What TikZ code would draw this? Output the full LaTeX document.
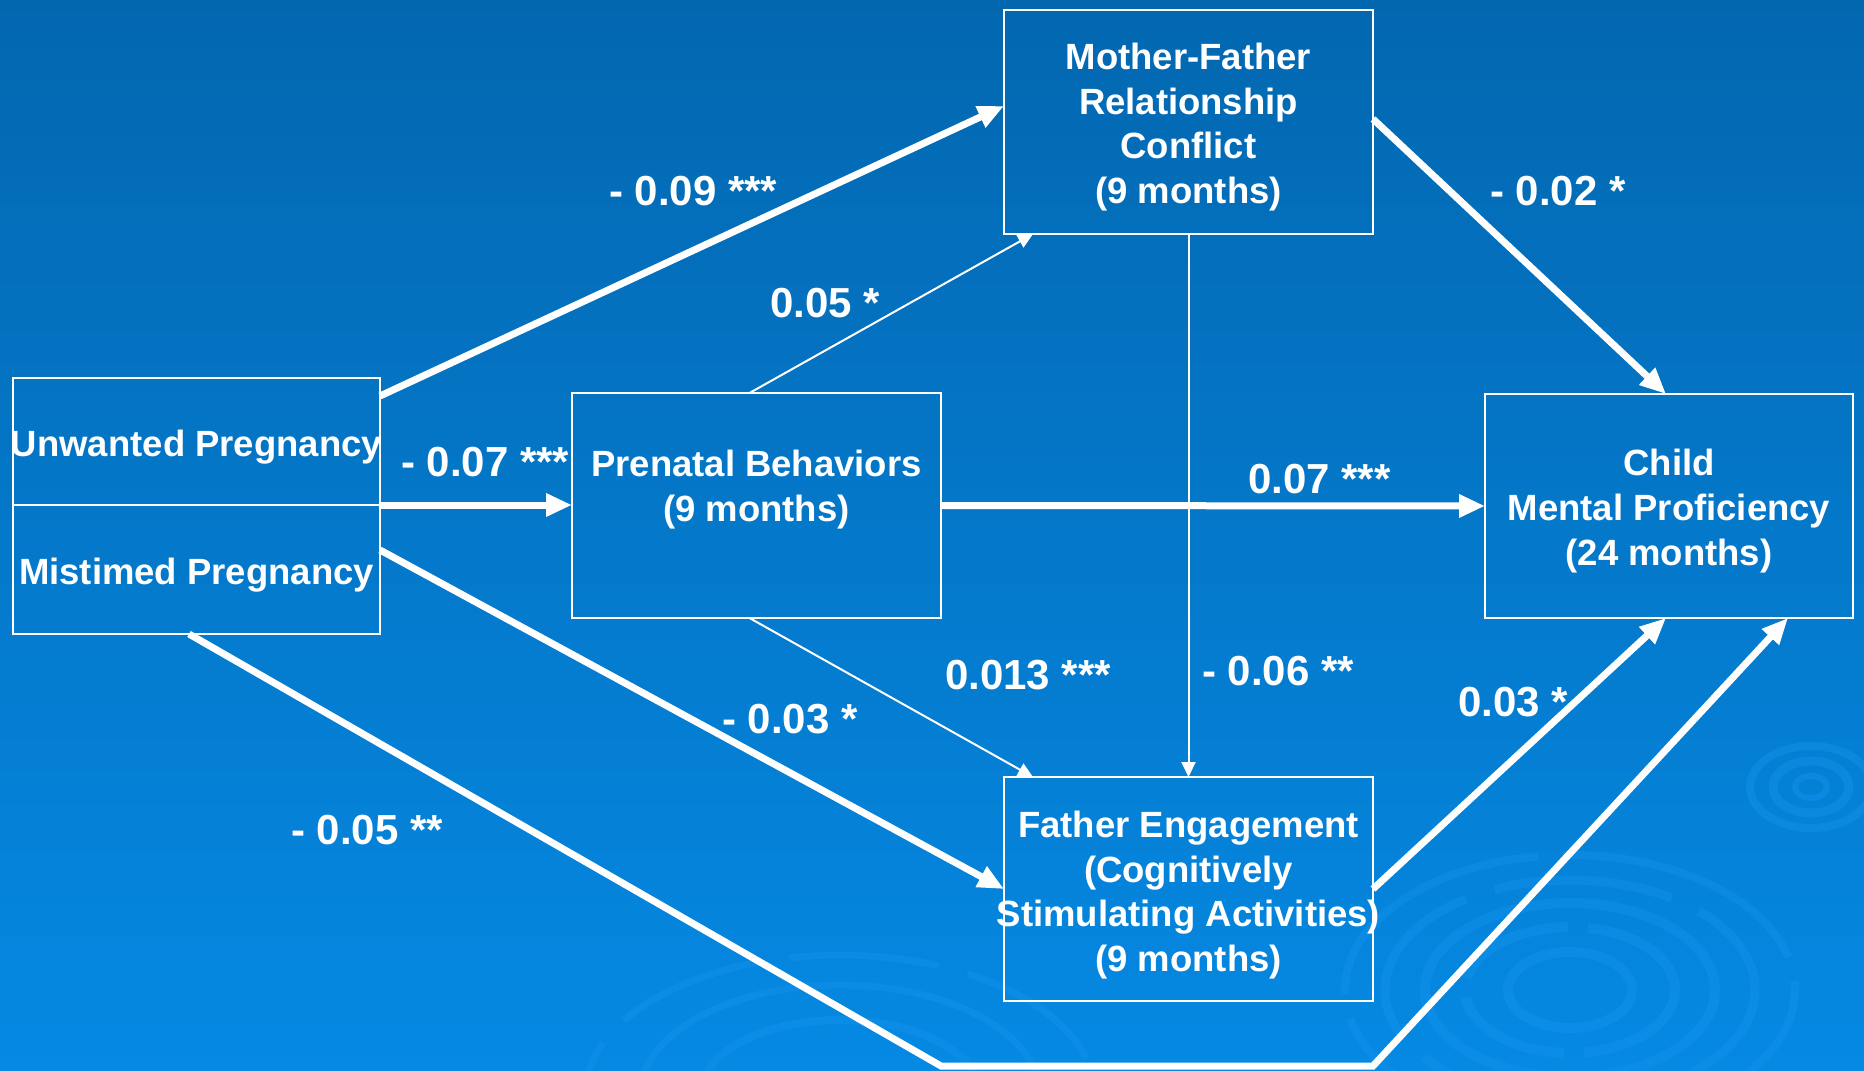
\documentclass[tikz,border=0pt]{standalone}
\usepackage{fontspec}
\setmainfont{Liberation Sans}
\usetikzlibrary{arrows.meta,calc}
\definecolor{bgtop}{RGB}{3,103,176}
\definecolor{bgbot}{RGB}{5,137,227}
\definecolor{ripc}{RGB}{22,148,238}
\newcommand{\dgBoxFont}{\bfseries\fontsize{36.5}{44.7}\selectfont}
\newcommand{\dgLabFont}{\bfseries\fontsize{42}{48}\selectfont}
\begin{document}
\begin{tikzpicture}[x=1pt,y=-1pt,
  box/.style={draw=white,line width=2.5pt,inner sep=0pt,outer sep=0pt},
  btext/.style={text=white,align=center,font=\dgBoxFont,inner sep=0pt},
  lab/.style={text=white,font=\dgLabFont,inner sep=0pt,anchor=base west},
  thick arrow/.style={draw=white,line width=7pt,-{Triangle[length=26pt,width=22pt]}},
  thin arrow/.style={draw=white,line width=2pt,-{Triangle[length=15pt,width=14pt]}}]
\useasboundingbox (0,0) rectangle (1864,1071);
\clip (0,0) rectangle (1864,1071);
% background
\shade[top color=bgtop,middle color=bgtop,bottom color=bgbot] (0,0) rectangle (1864,1071);
% ripples
\begin{scope}[draw=ripc,opacity=0.4]
  \draw[line width=8pt,dash pattern=on 260pt off 25pt] (1570,990) ellipse [x radius=225, y radius=135];
  \draw[line width=9pt,dash pattern=on 180pt off 30pt] (1570,990) ellipse [x radius=185, y radius=110];
  \draw[line width=10pt] (1570,990) ellipse [x radius=145, y radius=87];
  \draw[line width=10pt,dash pattern=on 120pt off 20pt] (1570,990) ellipse [x radius=105, y radius=63];
  \draw[line width=10pt] (1570,990) ellipse [x radius=62, y radius=38];
  \draw[line width=8pt] (1811,787) ellipse [x radius=61, y radius=41];
  \draw[line width=9pt] (1811,787) ellipse [x radius=38, y radius=26];
  \draw[line width=6pt] (1811,787) ellipse [x radius=16, y radius=11];
  \draw[line width=7pt,dash pattern=on 150pt off 30pt] (840,1095) ellipse [x radius=255, y radius=140];
  \draw[line width=7pt] (840,1095) ellipse [x radius=200, y radius=110];
  \draw[line width=8pt] (840,1095) ellipse [x radius=140, y radius=75];
\end{scope}
% boxes
\node[box,minimum width=367pt,minimum height=127pt] (U) at (196.5,441.5) {};
\node[box,minimum width=367pt,minimum height=129pt] (M) at (196.5,569.5) {};
\node[box,minimum width=369pt,minimum height=225pt] (P) at (756.5,505.5) {};
\node[box,minimum width=369pt,minimum height=224pt] (MF) at (1188.5,122) {};
\node[box,minimum width=368pt,minimum height=224pt] (C) at (1669,506) {};
\node[box,minimum width=369pt,minimum height=224pt] (F) at (1188.5,889) {};
% box texts
\node[btext] (Utext) at ([yshift=-6pt]U.center) {Unwanted Pregnancy};
\node[btext] (Mtext) at ([yshift=-6pt]M.center) {Mistimed Pregnancy};
\node[btext] (Ptext) at ([yshift=16pt]P.center) {Prenatal Behaviors\\(9 months)};
\node[btext] (MFtext) at ([yshift=-5pt]MF.center) {Mother-Father\\Relationship\\Conflict\\(9 months)};
\node[btext] (Ctext) at ([yshift=-5pt]C.center) {Child\\Mental Proficiency\\(24 months)};
\node[btext] (Ftext) at ([yshift=-6pt]F.center) {Father Engagement\\(Cognitively\\Stimulating Activities)\\(9 months)};
% connectors
\coordinate (b1) at (941,1066);
\coordinate (b2) at (1373,1066);
\draw[thick arrow] ([yshift=-18pt]U.north east) -- ([yshift=16pt]MF.west);
\draw[thick arrow] (U.south east) -- (U.south east -| P.west);
\draw[thin arrow] ([xshift=-7pt]P.north) -- ([xshift=29pt]MF.south west);
\draw[thick arrow] (P.east) -- (C.west);
\draw[thick arrow] ([yshift=3pt]MF.east) -- ([xshift=-3pt]C.north);
\draw[thin arrow] (MF.south) -- (F.north);
\draw[thin arrow] ([xshift=-7pt]P.south) -- ([xshift=29pt]F.north west);
\draw[thick arrow] ([yshift=19.5pt]M.east) -- (F.west);
\draw[thick arrow] (F.east) -- ([xshift=-3pt]C.south);
\draw[thick arrow] ([xshift=-7.5pt]M.south) -- (b1) -- (b2) -- ([xshift=119pt]C.south);
% labels
\node[lab] (l1) at (609,205) {- 0.09 ***};
\node[lab] (l2) at (770,317) {0.05 *};
\node[lab] (l3) at (401,476) {- 0.07 ***};
\node[lab] (l4) at (1490,205) {- 0.02 *};
\node[lab] (l5) at (1248,493) {0.07 ***};
\node[lab] (l6) at (945,689) {0.013 ***};
\node[lab] (l7) at (1202,685) {- 0.06 **};
\node[lab] (l8) at (1458,716) {0.03 *};
\node[lab] (l9) at (722,733) {- 0.03 *};
\node[lab] (l10) at (291,844) {- 0.05 **};
\end{tikzpicture}
\end{document}
